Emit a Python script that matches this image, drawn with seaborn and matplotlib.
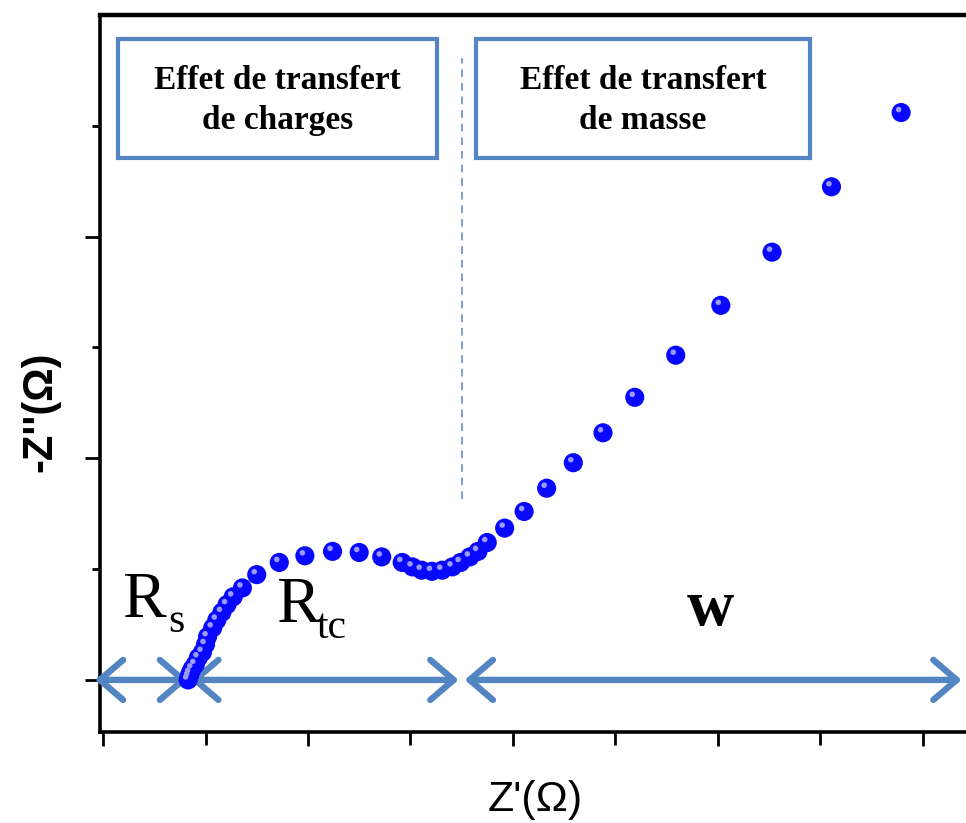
import numpy as np
import pandas as pd
import matplotlib
matplotlib.use('Agg')
import matplotlib.pyplot as plt
import matplotlib.transforms as mtransforms
from matplotlib.patches import Rectangle
import seaborn as sns

# Nyquist points: Z' and -Z'' (arbitrary units, one tick = 1)
z_re = [0.83, 0.84, 0.85, 0.87, 0.90, 0.93, 0.97, 1.00, 1.02, 1.07, 1.11, 1.16, 1.21,
        1.27, 1.36, 1.50, 1.72, 1.97, 2.24, 2.50, 2.72, 2.92, 3.02, 3.11, 3.21, 3.31,
        3.41, 3.49, 3.58, 3.66, 3.75, 3.92, 4.11, 4.33, 4.59, 4.88, 5.19, 5.59, 6.03,
        6.53, 7.11, 7.79]
z_im = [0.00, 0.03, 0.06, 0.10, 0.14, 0.20, 0.25, 0.32, 0.39, 0.47, 0.54, 0.61, 0.68,
        0.75, 0.83, 0.95, 1.06, 1.12, 1.16, 1.15, 1.11, 1.06, 1.02, 0.99, 0.98, 0.99,
        1.02, 1.06, 1.11, 1.16, 1.24, 1.37, 1.52, 1.73, 1.96, 2.23, 2.55, 2.93, 3.38,
        3.86, 4.45, 5.12]

# region limits along Z'
rs_end = 0.83
rtc_end = 3.50
box_texts = ['Effet de transfert\nde charges', 'Effet de transfert\nde masse']

df = pd.DataFrame({'re': z_re, 'im': z_im})

sns.set_theme(style='white')
plt.rcParams['font.family'] = ['Liberation Sans', 'DejaVu Sans']

BLUE_ARROW = '#5385c2'

fig = plt.figure(figsize=(9.66, 8.23), dpi=100)
ax = fig.add_axes([100 / 966, 91 / 823, 880 / 966, 717 / 823])

sns.scatterplot(data=df, x='re', y='im', ax=ax, s=190, color='#0808ff',
                edgecolor='none', zorder=5, legend=False)
# small highlight to mimic the shaded spheres
hl = mtransforms.offset_copy(ax.transData, fig=fig, x=-2.5, y=3, units='dots')
ax.scatter(df['re'], df['im'], s=16, color='#9a9aff', edgecolor='none',
           transform=hl, zorder=6)

ax.set_xlim(-0.03, 8.56)
ax.set_ylim(-0.47, 6.0)
ax.set_xticks(np.arange(0, 9, 2))
ax.set_xticks(np.arange(1, 9, 2), minor=True)
ax.set_yticks(np.arange(0, 6, 2))
ax.set_yticks(np.arange(1, 6, 2), minor=True)
ax.set_xticklabels([])
ax.set_yticklabels([])
ax.tick_params(axis='both', which='both', direction='out', color='black', width=2)
ax.tick_params(axis='x', which='major', length=10, bottom=True)
ax.tick_params(axis='x', which='minor', length=9, bottom=True)
ax.tick_params(axis='y', which='major', length=11, left=True)
ax.tick_params(axis='y', which='minor', length=6, left=True)
for side in ['left', 'top', 'bottom']:
    ax.spines[side].set_color('black')
    ax.spines[side].set_linewidth(2.6)
ax.spines['top'].set_linewidth(3.2)
ax.set_xlabel('')
ax.set_ylabel('')

# double arrows
def darrow(x0, x1):
    ax.annotate('', xy=(x1, 0), xytext=(x0, 0), annotation_clip=False,
                arrowprops=dict(arrowstyle='<->, head_length=1.4, head_width=1.2',
                                color=BLUE_ARROW, lw=4.6, shrinkA=0, shrinkB=0),
                zorder=4)

darrow(-0.08, rs_end)
darrow(rs_end + 0.02, rtc_end - 0.03)
darrow(rtc_end + 0.03, 8.38)

# dashed separator
ax.plot([rtc_end, rtc_end], [1.63, 5.61], color='#7f9fcf', lw=1.4,
        dashes=(4, 3), zorder=2)

# text boxes
for (x0, x1), txt in zip([(0.15, 3.26), (3.64, 6.90)], box_texts):
    ax.add_patch(Rectangle((x0, 4.71), x1 - x0, 1.07, facecolor='white',
                           edgecolor=BLUE_ARROW, lw=3, zorder=3))
    ax.text((x0 + x1) / 2, 5.23, txt, ha='center', va='center',
            family='Liberation Serif', fontweight='bold', fontsize=24,
            linespacing=1.4, color='black', zorder=4)

# region labels
serif = dict(family='Liberation Serif', color='black', zorder=4)
ax.text(0.19, 0.57, 'R', fontsize=47, va='baseline', ha='left', **serif)
ax.text(0.64, 0.43, 's', fontsize=30, va='baseline', ha='left', **serif)
ax.text(1.69, 0.52, 'R', fontsize=47, va='baseline', ha='left', **serif)
ax.text(2.08, 0.38, 'tc', fontsize=30, va='baseline', ha='left', **serif)
ax.text(5.93, 0.50, 'w', fontsize=47, va='baseline', ha='center',
        fontweight='bold', **serif)

fig.text(535 / 966, 1 - 800 / 823, "Z'(\u03a9)", ha='center', va='center',
         fontsize=31, color='black')
fig.text(40 / 966, 1 - 412 / 823, "-Z''(\u03a9)", ha='center', va='center',
         rotation=90, fontsize=30, color='black', fontweight='bold')

fig.savefig('out.png', dpi=100)
